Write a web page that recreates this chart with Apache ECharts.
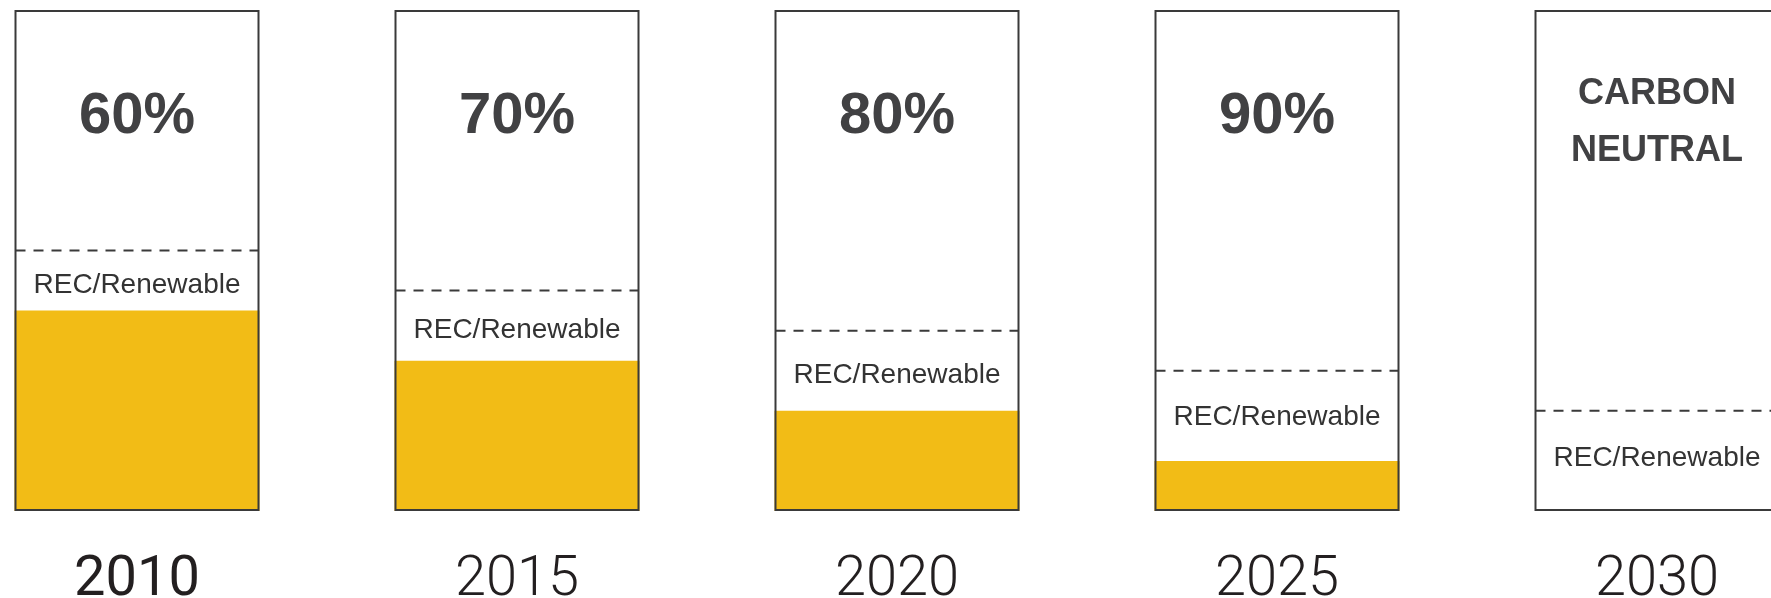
<!DOCTYPE html>
<html>
<head>
<meta charset="utf-8">
<script src="https://cdn.jsdelivr.net/npm/echarts@6/dist/echarts.min.js"></script>
<style>
  html, body { margin: 0; padding: 0; background: #ffffff; width: 1771px; height: 598px; overflow: hidden; position: relative; }
  /* the plot runs a little wider than the page so the last box is cut by the right edge */
  #chart { position: absolute; left: -53px; top: 0; width: 1900px; height: 598px; }
</style>
</head>
<body>
<div id="chart"></div>
<script>
// Milestones on the road to carbon neutrality
const years = ['2010', '2015', '2020', '2025', '2030'];
const headlines = ['60%', '70%', '80%', '90%', 'CARBON\nNEUTRAL'];
// Remaining (yellow) share of the footprint, in percent of the box
const residualShare = [40, 30, 20, 10, 0];
// Upper edge of the REC/renewable band (dashed line), in percent of the box
const renewableTop = [52, 44, 36, 28, 20];
const boxTotal = [100, 100, 100, 100, 100];
const bandLabel = 'REC/Renewable';

const BAR_W = 245;
const TEXT_DARK = '#414143';

const chart = echarts.init(document.getElementById('chart'), null, { renderer: 'canvas' });

const outlineData = boxTotal.map(function (v, i) {
  const twoLine = headlines[i].indexOf('\n') >= 0;
  return {
    value: v,
    label: {
      show: true,
      position: 'insideTop',
      distance: twoLine ? 56 : 77,
      formatter: headlines[i],
      color: TEXT_DARK,
      fontFamily: '"Liberation Sans", Arial, sans-serif',
      fontWeight: 'bold',
      fontSize: twoLine ? 36 : 58,
      lineHeight: twoLine ? 57 : 60
    }
  };
});

const bandData = years.map(function (y, i) {
  return [i, residualShare[i], renewableTop[i]];
});

chart.setOption({
  animation: false,
  backgroundColor: '#ffffff',
  grid: { left: 0, right: 0, top: 10, bottom: 87, containLabel: false, outerBoundsMode: 'none' },
  xAxis: {
    type: 'category',
    data: years,
    boundaryGap: true,
    axisLine: { show: false },
    axisTick: { show: false },
    splitLine: { show: false },
    axisLabel: {
      margin: 42,
      formatter: function (v, i) { return (i === 0 ? '{reg|' : '{lt|') + v + '}'; },
      rich: {
        reg: { fontFamily: 'Roboto, "Open Sans", sans-serif', fontWeight: 400, fontSize: 56, lineHeight: 56, color: '#231f20' },
        lt: { fontFamily: 'Roboto, "Open Sans", sans-serif', fontWeight: 300, fontSize: 56, lineHeight: 56, color: '#231f20' }
      }
    }
  },
  yAxis: {
    type: 'value',
    min: 0,
    max: 100,
    show: false,
    splitLine: { show: false }
  },
  series: [
    {
      name: 'Residual',
      type: 'bar',
      data: residualShare,
      barWidth: BAR_W,
      barGap: '-100%',
      z: 1,
      itemStyle: { color: '#f2bc16' }
    },
    {
      name: 'Box',
      type: 'bar',
      data: outlineData,
      barWidth: BAR_W,
      barGap: '-100%',
      z: 3,
      itemStyle: { color: 'rgba(0,0,0,0)', borderColor: '#3a3a3a', borderWidth: 2 }
    },
    {
      name: 'Renewable band',
      type: 'custom',
      data: bandData,
      encode: { x: 0, y: [1, 2] },
      z: 2,
      renderItem: function (params, api) {
        const i = api.value(0);
        const low = api.coord([i, api.value(1)]);
        const high = api.coord([i, api.value(2)]);
        const half = BAR_W / 2;
        // label sits in the middle of the band, but never far below the dashed line
        const labelY = Math.min((low[1] + high[1]) / 2 + 5, high[1] + 47);
        return {
          type: 'group',
          children: [
            {
              type: 'line',
              shape: { x1: high[0] - half + 1, y1: high[1], x2: high[0] + half - 1, y2: high[1] },
              style: { stroke: '#3a3a3a', lineWidth: 2, lineDash: [10, 8] }
            },
            {
              type: 'text',
              x: high[0],
              y: labelY,
              style: {
                text: bandLabel,
                fill: '#333333',
                fontFamily: '"Liberation Sans", Arial, sans-serif',
                fontSize: 28,
                align: 'center',
                verticalAlign: 'middle'
              }
            }
          ]
        };
      }
    }
  ]
});
</script>
</body>
</html>
